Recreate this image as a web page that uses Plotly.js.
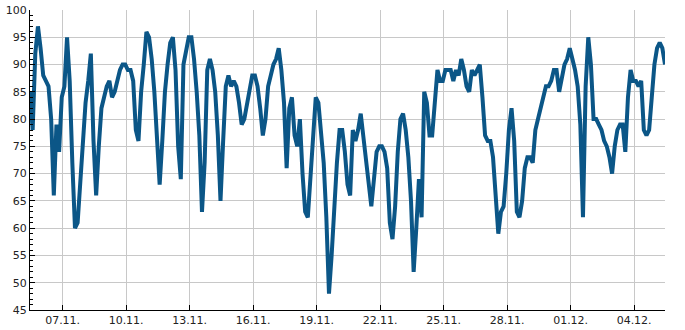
<!DOCTYPE html>
<html>
<head>
<meta charset="utf-8">
<script src="https://cdn.plot.ly/plotly-3.0.1.min.js"></script>
<style>html,body{margin:0;padding:0;background:#fff;}#chart{width:685px;height:330px;}</style>
</head>
<body>
<div id="chart"></div>
<script>
// Series: readings every 3 hours, starting 05.11. 11:00
const startTime = "2023-11-05T11:00:00";
const stepHours = 3;
const values = [
  85,78,92,97,93,88,87,86,80,66,
  79,74,84,86,95,87,72,60,61,69,
  78,83,87,92,76,66,75,82,84,86,
  87,84,85,87,89,90,90,89,89,87,
  78,76,85,90,96,95,91,85,76,68,
  76,85,90,94,95,89,75,69,90,93,
  95,95,91,85,77,63,72,89,91,89,
  85,77,65,76,86,88,86,87,86,83,
  79,80,83,86,88,88,86,82,77,80,
  86,88,90,91,93,89,83,71,82,84,
  77,75,80,70,63,62,70,78,84,83,
  78,72,62,48,55,64,72,78,78,74,
  68,66,78,76,78,81,77,73,68,64,
  69,74,75,75,74,71,61,58,64,74,
  80,81,78,73,65,52,60,69,62,85,
  83,77,77,84,89,87,87,89,89,89,
  87,89,88,91,89,86,85,89,88,89,
  90,84,77,76,76,73,65,59,63,64,
  70,78,82,76,63,62,65,71,73,73,
  72,78,80,82,84,86,86,87,89,89,
  85,88,90,91,93,91,89,86,79,62,
  86,95,90,80,80,79,78,76,75,73,
  70,75,78,79,79,74,84,89,87,87,
  86,87,78,77,78,84,90,93,94,93,
  90
];
const xTick0 = "2023-11-07";
const xTickDays = 3;
const yTickVals = [45,50,55,60,65,70,75,80,85,90,95,100];

function pad(n){return (n<10?"0":"")+n;}
const t0 = new Date(startTime + "Z").getTime();
const times = values.map((v,i)=>{
  const d = new Date(t0 + i*stepHours*3600000);
  return d.getUTCFullYear()+"-"+pad(d.getUTCMonth()+1)+"-"+pad(d.getUTCDate())+" "+pad(d.getUTCHours())+":00";
});

const trace = {
  x: times, y: values, type: "scatter", mode: "lines",
  line: {color: "#0b5687", width: 4, shape: "linear"},
  hoverinfo: "skip"
};

const layout = {
  width: 685, height: 330,
  margin: {l: 30, r: 20, t: 10, b: 20, pad: 0},
  paper_bgcolor: "#ffffff", plot_bgcolor: "#ffffff",
  showlegend: false,
  font: {family: "DejaVu Sans, sans-serif", size: 11, color: "#222"},
  xaxis: {
    type: "date",
    range: [times[0], times[times.length-1]],
    tick0: xTick0, dtick: xTickDays*86400000,
    tickformat: "%d.%m.",
    ticks: "inside", ticklen: 5, tickcolor: "#000", tickwidth: 1,
    showgrid: true, gridcolor: "#c8c8c8", gridwidth: 1,
    showline: true, linecolor: "#000", linewidth: 1,
    zeroline: false, automargin: false,
    tickfont: {family: "DejaVu Sans, sans-serif", size: 11, color: "#222"}
  },
  yaxis: {
    range: [45, 100],
    tickmode: "array", tickvals: yTickVals,
    ticks: "inside", ticklen: 5, tickcolor: "#000", tickwidth: 1,
    minor: {ticks: "inside", dtick: 1, ticklen: 3, tickcolor: "#000", showgrid: false},
    showgrid: true, gridcolor: "#c8c8c8", gridwidth: 1,
    showline: true, linecolor: "#000", linewidth: 1,
    zeroline: false, automargin: false,
    tickfont: {family: "DejaVu Sans, sans-serif", size: 11, color: "#222"}
  }
};

Plotly.newPlot("chart", [trace], layout, {staticPlot: true, displayModeBar: false});
</script>
</body>
</html>
